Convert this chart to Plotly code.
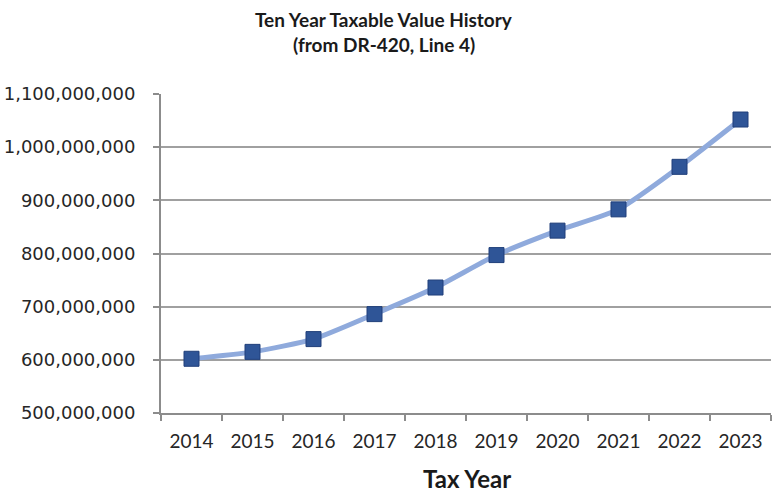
import plotly.graph_objects as go

# Ten-year taxable value history (DR-420, line 4)
years = ["2014", "2015", "2016", "2017", "2018", "2019", "2020", "2021", "2022", "2023"]
taxable_values = [
    602_000_000, 615_000_000, 639_000_000, 686_000_000, 736_000_000,
    797_000_000, 843_000_000, 883_000_000, 963_000_000, 1_052_000_000,
]
y_ticks = [500_000_000, 600_000_000, 700_000_000, 800_000_000,
           900_000_000, 1_000_000_000, 1_100_000_000]
y_tick_labels = [f"{v:,}" for v in y_ticks]

PLOT_L, PLOT_R, PLOT_T, PLOT_B = 161, 771, 94, 413
W, H = 774, 493
plot_w = PLOT_R - PLOT_L
plot_h = PLOT_B - PLOT_T


def paper_x(px):
    return (px - PLOT_L) / plot_w


def paper_y(py):
    return (PLOT_B - py) / plot_h


fig = go.Figure()
fig.add_trace(go.Scatter(
    x=years,
    y=taxable_values,
    mode="lines+markers",
    line=dict(color="#8FAADC", width=5, shape="spline", smoothing=0.6),
    marker=dict(symbol="square", size=15, color="#2F5597",
                line=dict(color="#203F7A", width=1)),
    showlegend=False,
))

fig.update_layout(
    width=W,
    height=H,
    margin=dict(l=PLOT_L, r=W - PLOT_R, t=PLOT_T, b=H - PLOT_B),
    paper_bgcolor="white",
    plot_bgcolor="white",
    font=dict(family="DejaVu Sans", color="#262626"),
)

# two-line chart title
for text, py in [("<b>Ten Year Taxable Value History</b>", 19),
                 ("<b>(from DR-420, Line 4)</b>", 45)]:
    fig.add_annotation(text=text, xref="paper", yref="paper",
                       x=paper_x(384), y=paper_y(py),
                       xanchor="center", yanchor="middle", showarrow=False,
                       font=dict(family="Lato", size=19, color="#1a1a1a"))

# x axis title
fig.add_annotation(text="<b>Tax Year</b>", xref="paper", yref="paper",
                   x=paper_x(467), y=paper_y(478),
                   xanchor="center", yanchor="middle", showarrow=False,
                   font=dict(family="Lato", size=24, color="#1a1a1a"))

fig.update_xaxes(
    type="category",
    range=[-0.5, len(years) - 0.5],
    showgrid=False,
    showline=True, linecolor="#8C8C8C", linewidth=2,
    ticks="outside", tickson="boundaries", ticklen=6, tickcolor="#8C8C8C", tickwidth=2,
    ticklabelstandoff=10,
    tickfont=dict(family="Lato", size=19, color="#262626"),
)
fig.update_yaxes(
    range=[500_000_000, 1_100_000_000],
    tickvals=y_ticks,
    ticktext=y_tick_labels,
    showgrid=True, gridcolor="#A0A0A0", gridwidth=2,
    showline=True, linecolor="#8C8C8C", linewidth=2,
    ticks="outside", ticklen=6, tickcolor="#8C8C8C", tickwidth=2,
    ticklabelstandoff=14,
    tickfont=dict(family="DejaVu Sans", size=18, color="#262626"),
    zeroline=False,
)

fig.write_html("out.html")
